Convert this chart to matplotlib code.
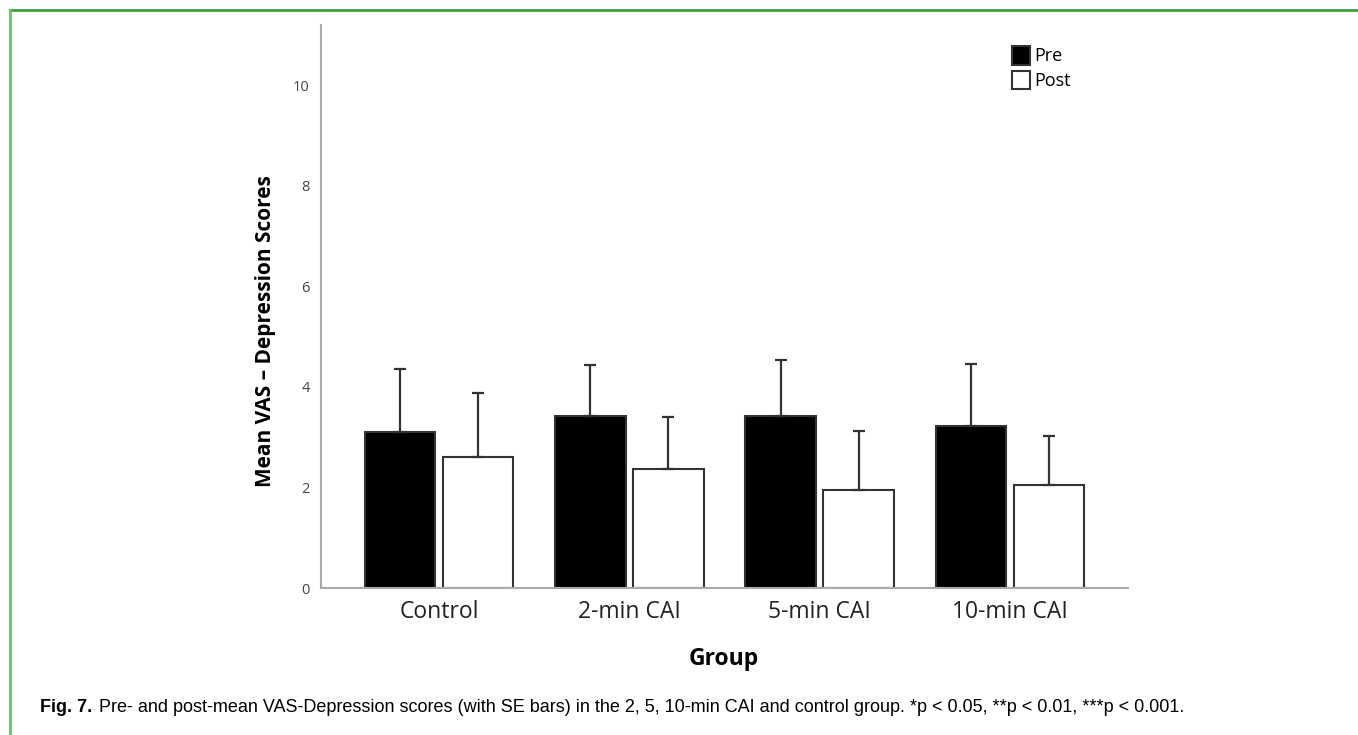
import matplotlib.pyplot as plt
import numpy as np
from matplotlib.lines import Line2D

groups = ["Control", "2-min CAI", "5-min CAI", "10-min CAI"]
pre_mean = [3.11, 3.42, 3.43, 3.23]
pre_se = [1.24, 1.01, 1.10, 1.22]
post_mean = [2.60, 2.37, 1.95, 2.05]
post_se = [1.27, 1.04, 1.17, 0.98]
yticks = [0, 2, 4, 6, 8, 10]

caption_bold = "Fig. 7."
caption_text = ("Pre- and post-mean VAS-Depression scores (with SE bars) in the 2, 5, "
                "10-min CAI and control group. *p < 0.05, **p < 0.01, ***p < 0.001.")


def main():
    fig = plt.figure(figsize=(13.58, 7.35), dpi=100)
    ax = fig.add_axes([0.2364, 0.2, 0.5942, 0.766])

    x = np.arange(len(groups))
    w = 0.37
    off = 0.205
    edge = "#333333"
    err_kw = dict(ecolor=edge, elinewidth=1.6, capsize=4, capthick=1.6)

    ax.bar(x - off, pre_mean, w, color="black", edgecolor=edge, linewidth=1.5,
           yerr=[np.zeros(len(pre_se)), pre_se], error_kw=err_kw, label="Pre", zorder=2)
    ax.bar(x + off, post_mean, w, color="white", edgecolor=edge, linewidth=1.5,
           yerr=[np.zeros(len(post_se)), post_se], error_kw=err_kw, label="Post", zorder=2)

    ax.set_xlim(-0.62, 3.62)
    ax.set_ylim(0, 11.2)
    ax.set_yticks(yticks)
    ax.set_yticklabels([str(t) for t in yticks], fontsize=10.5, color="#444444",
                       family="Open Sans")
    ax.set_xticks(x)
    ax.set_xticklabels(groups, fontsize=16.5, color="#222222", family="Open Sans")
    ax.tick_params(axis="both", length=0)
    ax.tick_params(axis="y", pad=8)
    ax.tick_params(axis="x", pad=9)

    for s in ["top", "right"]:
        ax.spines[s].set_visible(False)
    for s in ["left", "bottom"]:
        ax.spines[s].set_color("#aaaaaa")
        ax.spines[s].set_linewidth(1.5)

    ax.set_ylabel("Mean VAS \u2013 Depression Scores", fontsize=15, fontweight="bold",
                  family="Open Sans")
    ax.yaxis.set_label_coords((276 - 321) / 807, (588 - 331) / 563)
    ax.set_xlabel("Group", fontsize=16.5, fontweight="bold", family="Open Sans")
    ax.xaxis.set_label_coords((724 - 321) / 807, -(647 - 588) / 563)

    ax.legend(loc="upper left", bbox_to_anchor=(1012 / 1358, 1 - 46 / 735),
              bbox_transform=fig.transFigure,
              frameon=False, handlelength=1.0, handleheight=1.2, handletextpad=0.25,
              labelspacing=0.3, borderpad=0, borderaxespad=0,
              prop={"family": "Open Sans", "size": 13})

    # green frame (top and left only)
    fig.add_artist(Line2D([10 / 1358, 1], [1 - 10 / 735, 1 - 10 / 735],
                          transform=fig.transFigure, color="#3f9f3f", linewidth=2))
    fig.add_artist(Line2D([10 / 1358, 10 / 1358], [0, 1 - 10 / 735],
                          transform=fig.transFigure, color="#6cbf6c", linewidth=2))

    t = fig.text(40 / 1358, 1 - 707 / 735, caption_bold, fontsize=13, fontweight="bold",
                 family="Liberation Sans", va="center", ha="left")
    fig.canvas.draw()
    bb = t.get_window_extent()
    fig.text((bb.x1 + 7) / 1358, 1 - 707 / 735, caption_text, fontsize=13,
             family="Liberation Sans", va="center", ha="left")

    fig.savefig("out.png", dpi=100)


if __name__ == "__main__":
    main()
